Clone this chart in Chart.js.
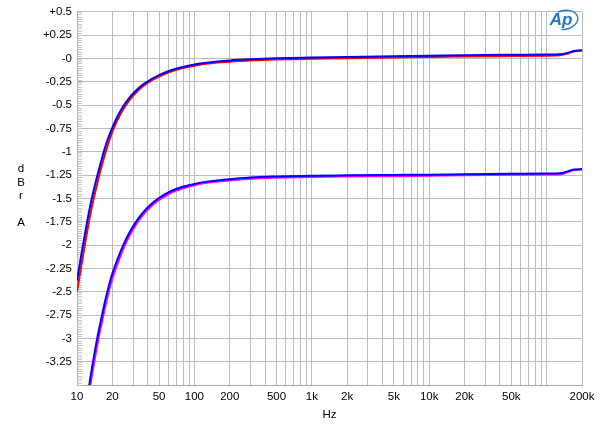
<!DOCTYPE html>
<html>
<head>
<meta charset="utf-8">
<script src="https://cdn.jsdelivr.net/npm/chart.js@4.4.1/dist/chart.umd.min.js"></script>
<style>
	body { margin: 0; background: #fff; }
</style>
</head>
<body>
<canvas id="freqChart" width="600" height="431"></canvas>
<script>
// frequency points (Hz) shared by all four traces
const freqs = [10, 11, 12, 13, 14, 15, 16, 17, 18, 19, 20, 22, 25, 28, 32, 36, 40, 45, 50, 60, 70, 80, 100, 120, 150, 200, 300, 500, 1000, 2000, 5000, 10000, 20000, 50000, 100000, 130000, 150000, 170000, 200000];

// upper pair (0 dB)
const topBlue = [-2.38, -2.07, -1.8, -1.57, -1.39, -1.24, -1.11, -0.99, -0.89, -0.81, -0.741, -0.626, -0.503, -0.418, -0.34, -0.285, -0.246, -0.207, -0.178, -0.136, -0.109, -0.09, -0.065, -0.049, -0.034, -0.02, -0.008, 0.002, 0.01, 0.017, 0.025, 0.03, 0.036, 0.04, 0.042, 0.045, 0.06, 0.08, 0.088];
const topRed = [-2.5, -2.19, -1.91, -1.67, -1.48, -1.32, -1.18, -1.06, -0.955, -0.865, -0.785, -0.665, -0.535, -0.445, -0.362, -0.303, -0.262, -0.222, -0.193, -0.15, -0.122, -0.102, -0.077, -0.06, -0.046, -0.034, -0.022, -0.011, -0.003, 0.004, 0.012, 0.017, 0.023, 0.027, 0.03, 0.034, 0.052, 0.076, 0.086];

// lower pair (-1.25 dB)
const lowBlue = [null, null, -3.71, -3.42, -3.18, -2.975, -2.805, -2.65, -2.515, -2.4, -2.305, -2.16, -1.99, -1.866, -1.746, -1.66, -1.597, -1.538, -1.495, -1.436, -1.399, -1.374, -1.344, -1.325, -1.309, -1.294, -1.275, -1.264, -1.256, -1.252, -1.248, -1.245, -1.24, -1.235, -1.232, -1.23, -1.21, -1.19, -1.185];
const lowMagenta = [null, null, -3.8, -3.5, -3.26, -3.05, -2.875, -2.72, -2.58, -2.46, -2.36, -2.21, -2.03, -1.9, -1.775, -1.687, -1.622, -1.56, -1.516, -1.455, -1.416, -1.39, -1.358, -1.338, -1.322, -1.307, -1.288, -1.277, -1.269, -1.265, -1.261, -1.257, -1.252, -1.247, -1.244, -1.242, -1.22, -1.196, -1.19];

// axis ticks
const xLabelValues = [10, 20, 50, 100, 200, 500, 1000, 2000, 5000, 10000, 20000, 50000, 200000];
const xLabelText = ["10", "20", "50", "100", "200", "500", "1k", "2k", "5k", "10k", "20k", "50k", "200k"];
const yTickValues = [0.5, 0.25, 0, -0.25, -0.5, -0.75, -1, -1.25, -1.5, -1.75, -2, -2.25, -2.5, -2.75, -3, -3.25, -3.5];
const yTickText = ["+0.5", "+0.25", "-0", "-0.25", "-0.5", "-0.75", "-1", "-1.25", "-1.5", "-1.75", "-2", "-2.25", "-2.5", "-2.75", "-3", "-3.25", ""];
const yTitleLines = ["d", "B", "r", "", "A"];

// 1-2-...-9 grid per decade, then 100k and 200k
const xGrid = [];
for (let d = 10; d <= 10000; d *= 10) {
	for (let m = 1; m <= 9; m++) xGrid.push(d * m);
}
xGrid.push(100000, 200000);

const toPoints = (vals) => freqs.map((f, i) => ({ x: f, y: vals[i] }));

const font = { family: "'Liberation Sans', Arial, sans-serif", size: 11.5 };

const extras = {
	id: "extras",
	beforeDatasetsDraw(chart) {
		// small minor ticks along the left edge
		const ctx = chart.ctx;
		const y = chart.scales.y;
		const left = chart.chartArea.left;
		ctx.save();
		ctx.strokeStyle = "#c4c4c4";
		ctx.lineWidth = 1;
		ctx.beginPath();
		for (let v = -3.5; v <= 0.5001; v += 0.025) {
			const py = Math.round(y.getPixelForValue(v)) + 0.5;
			ctx.moveTo(left, py);
			ctx.lineTo(left + 5, py);
		}
		ctx.stroke();
		ctx.restore();
	},
	afterDraw(chart) {
		const ctx = chart.ctx;
		ctx.save();
		// stacked y title
		ctx.fillStyle = "#000";
		ctx.font = "11.5px 'Liberation Sans', Arial, sans-serif";
		ctx.textAlign = "center";
		ctx.textBaseline = "middle";
		yTitleLines.forEach((t, i) => ctx.fillText(t, 21, 169 + i * 13.5));
		// AP logo
		ctx.fillStyle = "#2277c2";
		ctx.strokeStyle = "#2277c2";
		ctx.font = "italic bold 17px 'Liberation Sans', Arial, sans-serif";
		ctx.fillText("Ap", 561, 20);
		ctx.lineWidth = 1.3;
		ctx.beginPath();
		ctx.ellipse(564, 20, 14, 9.5, -0.2, -1.9, 1.9);
		ctx.stroke();
		ctx.restore();
	},
};

const ctxFreq = document.getElementById("freqChart").getContext("2d");
const freqChart = new Chart(ctxFreq, {
	type: "line",
	data: {
		datasets: [
			{ data: toPoints(topBlue), borderColor: "#0000ff" },
			{ data: toPoints(topRed), borderColor: "#ff0000" },
			{ data: toPoints(lowBlue), borderColor: "#0000ff" },
			{ data: toPoints(lowMagenta), borderColor: "#ff00ff" },
		],
	},
	options: {
		responsive: false,
		animation: false,
		layout: { padding: { top: 8, right: 18, left: 0, bottom: 0 } },
		elements: {
			point: { radius: 0 },
			line: { borderWidth: 2, cubicInterpolationMode: "monotone", fill: false },
		},
		plugins: {
			legend: { display: false },
			tooltip: { enabled: false },
		},
		scales: {
			x: {
				type: "logarithmic",
				min: 10,
				max: 200000,
				afterBuildTicks: (scale) => {
					scale.ticks = xGrid.map((v) => ({ value: v }));
				},
				afterFit: (scale) => {
					scale.height = 46;
				},
				ticks: {
					autoSkip: false,
					maxRotation: 0,
					padding: 5,
					color: "#000",
					font: font,
					callback: (value) => {
						const i = xLabelValues.indexOf(value);
						return i >= 0 ? xLabelText[i] : "";
					},
				},
				grid: { color: "#bcbcbc", drawTicks: false },
				border: { color: "#a8a8a8" },
				title: {
					display: true,
					text: "Hz",
					color: "#000",
					font: font,
					padding: { top: 0, bottom: 9 },
				},
			},
			y: {
				min: -3.5,
				max: 0.5,
				afterBuildTicks: (scale) => {
					scale.ticks = yTickValues.map((v) => ({ value: v }));
				},
				afterFit: (scale) => {
					scale.width = 77;
				},
				ticks: {
					padding: 5,
					color: "#000",
					font: font,
					callback: (value) => {
						const i = yTickValues.findIndex((v) => Math.abs(v - value) < 1e-6);
						return i >= 0 ? yTickText[i] : "";
					},
				},
				grid: { color: "#bcbcbc", drawTicks: false },
				border: { color: "#a8a8a8" },
			},
		},
	},
	plugins: [extras],
});
</script>
</body>
</html>
